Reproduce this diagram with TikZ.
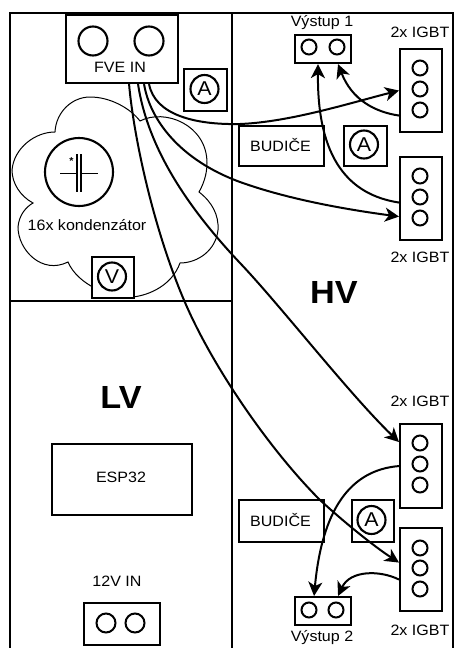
\documentclass[tikz,border=0pt]{standalone}
\usepackage{fontspec}
\setmainfont[FakeStretch=1.07]{Liberation Sans}
\usetikzlibrary{arrows.meta}
\tikzset{
  box/.style={draw,line width=2.1pt,inner sep=0pt,anchor=north west},
  pin/.style={draw,circle,line width=2pt,inner sep=0pt,minimum size=15pt},
  meter/.style={draw,circle,line width=2.1pt,inner sep=0pt,minimum size=28pt,font=\fontsize{20}{20}\selectfont},
  lbl/.style={inner sep=0pt,font=\fontsize{15}{15}\selectfont},
  wire/.style={line width=2pt,-{Stealth[length=14pt,width=14pt,inset=4pt]}},
}
\begin{document}
\begin{tikzpicture}[x=1pt,y=-1pt]
\useasboundingbox (0,0) rectangle (454,648);
% panels
\draw [line width=2.1pt] (10,648) -- (10,13) -- (453,13) -- (453,648);
\draw [line width=2.1pt] (232,13) -- (232,648);
\draw [line width=2.1pt] (10,301) -- (232,301);
% capacitor cloud
\draw [line width=1pt] (55,132) .. controls (56,112) and (72,97) .. (90,97)
  .. controls (110,97) and (130,108) .. (140,121)
  .. controls (165,108) and (207,125) .. (207,163)
  .. controls (207,175) and (203,185) .. (199,192)
  .. controls (212,202) and (219,215) .. (218,230)
  .. controls (216,250) and (198,263) .. (180,263)
  .. controls (172,285) and (150,295) .. (133,297)
  .. controls (110,298) and (78,285) .. (68,262)
  .. controls (42,275) and (18,250) .. (18,227)
  .. controls (19,215) and (26,207) .. (33,203)
  .. controls (20,196) and (12,183) .. (12,170)
  .. controls (14,148) and (35,132) .. (55,132);
\node (cap) [draw,circle,line width=2.1pt,minimum size=68pt,inner sep=0pt] at (79,172) {};
\draw [line width=1pt] (60,173) -- (77,173) (81,173) -- (98,173);
\draw [line width=1.1pt] (77,154) -- (77,192) (81,154) -- (81,192);
\node (capplus) [lbl,font=\fontsize{10}{10}\selectfont\bfseries] at (71.5,161.5) {*};
\node (capname) [lbl] at (87,225) {16x kondenzátor};
% input
\node (fve) [box,minimum width=112pt,minimum height=68pt] at (65,14) {};
\node (fvea) [draw,circle,line width=2.1pt,minimum size=29pt,inner sep=0pt] at (93,41) {};
\node (fveb) [draw,circle,line width=2.1pt,minimum size=29pt,inner sep=0pt] at (149,41) {};
\node (fvename) [lbl] at (120,67) {FVE IN};
\node (ameter1) [box,minimum width=43pt,minimum height=42pt] at (183,68) {};
\node (ameter1c) [meter] at (204.5,89) {A};
\node (vmeter) [box,minimum width=42pt,minimum height=41pt,fill=white] at (91,256) {};
\node (vmeterc) [meter] at (112,276.5) {V};
% low voltage side
\node (lv) [inner sep=0pt,font=\fontsize{32}{32}\selectfont] at (121,397) {\textbf{LV}};
\node (esp) [box,minimum width=140pt,minimum height=71pt] at (51,443) {};
\node (espname) [lbl] at (121,477) {ESP32};
\node (inname) [lbl] at (117,581) {12V IN};
\node (in) [box,minimum width=76pt,minimum height=42pt] at (83,602) {};
\node (ina) [pin,minimum size=19pt] at (106,623) {};
\node (inb) [pin,minimum size=19pt] at (135,623) {};
% high voltage side
\node (hv) [inner sep=0pt,font=\fontsize{32}{32}\selectfont] at (334,292) {\textbf{HV}};
\node (out1name) [lbl] at (322,23) {Výstup 1};
\node (out1) [box,minimum width=56pt,minimum height=28pt] at (294,34) {};
\node (out1a) [pin] at (309,47) {};
\node (out1b) [pin] at (337,47) {};
\node (drv1) [box,minimum width=85pt,minimum height=40pt] at (238,125) {};
\node (drv1name) [lbl] at (280.5,145) {BUDIČE};
\node (ameter2) [box,minimum width=43pt,minimum height=40pt] at (343,125) {};
\node (ameter2c) [meter] at (364,144.5) {A};
\node (igbt1name) [lbl] at (420,32) {2x IGBT};
\node (igbt1) [box,minimum width=42pt,minimum height=83pt] at (399,48) {};
\node (igbt1a) [pin] at (420,68) {};
\node (igbt1b) [pin] at (420,89) {};
\node (igbt1c) [pin] at (420,110) {};
\node (igbt2) [box,minimum width=42pt,minimum height=83pt] at (399,156) {};
\node (igbt2a) [pin] at (420,176) {};
\node (igbt2b) [pin] at (420,197) {};
\node (igbt2c) [pin] at (420,218) {};
\node (igbt2name) [lbl] at (420,257) {2x IGBT};
\node (igbt3name) [lbl] at (420,401) {2x IGBT};
\node (igbt3) [box,minimum width=42pt,minimum height=84pt] at (399,423) {};
\node (igbt3a) [pin] at (420,443) {};
\node (igbt3b) [pin] at (420,464) {};
\node (igbt3c) [pin] at (420,485) {};
\node (igbt4) [box,minimum width=42pt,minimum height=83pt] at (399,527) {};
\node (igbt4a) [pin] at (420,548) {};
\node (igbt4b) [pin] at (420,568) {};
\node (igbt4c) [pin] at (420,589) {};
\node (igbt4name) [lbl] at (420,630) {2x IGBT};
\node (drv2) [box,minimum width=85pt,minimum height=42pt] at (238,499) {};
\node (drv2name) [lbl] at (280.5,520) {BUDIČE};
\node (ameter3) [box,minimum width=42pt,minimum height=42pt] at (351,499) {};
\node (ameter3c) [meter] at (371.5,520) {A};
\node (out2) [box,minimum width=56pt,minimum height=28pt] at (294,596) {};
\node (out2a) [pin] at (309,610) {};
\node (out2b) [pin] at (336,610) {};
\node (out2name) [lbl] at (322,638) {Výstup 2};
% wires
\draw [wire] ([xshift=27pt]fve.south) .. controls (155,115) and (195,125) .. (240,124)
  .. controls (290,122) and (350,103) .. (igbt1.west);
\draw [wire] ([xshift=22pt]fve.south) .. controls (150,120) and (180,160) .. (240,182)
  .. controls (290,200) and (350,210) .. ([yshift=-18pt]igbt2.west);
\draw [wire] ([xshift=16pt]fve.south) .. controls (148,150) and (190,210) .. (240,263)
  .. controls (280,305) and (350,395) .. ([yshift=24pt]igbt3.west);
\draw [wire] ([xshift=7pt]fve.south) .. controls (134,140) and (155,235) .. (187,307)
  .. controls (215,370) and (270,450) .. (320,500)
  .. controls (345,523) and (375,547) .. ([yshift=7pt]igbt4.west);
\draw [wire] ([yshift=-25pt]igbt1.west) .. controls (375,112) and (352,100) .. ([xshift=15pt]out1.south);
\draw [wire] ([yshift=-4pt]igbt2.west) .. controls (350,195) and (317,160) .. ([xshift=-5pt]out1.south);
\draw [wire] (igbt3.west) .. controls (350,470) and (322,510) .. ([xshift=-9pt]out2.north);
\draw [wire] ([yshift=-10pt]igbt4.west) .. controls (380,570) and (350,570) .. ([xshift=15pt]out2.north);
\end{tikzpicture}
\end{document}
